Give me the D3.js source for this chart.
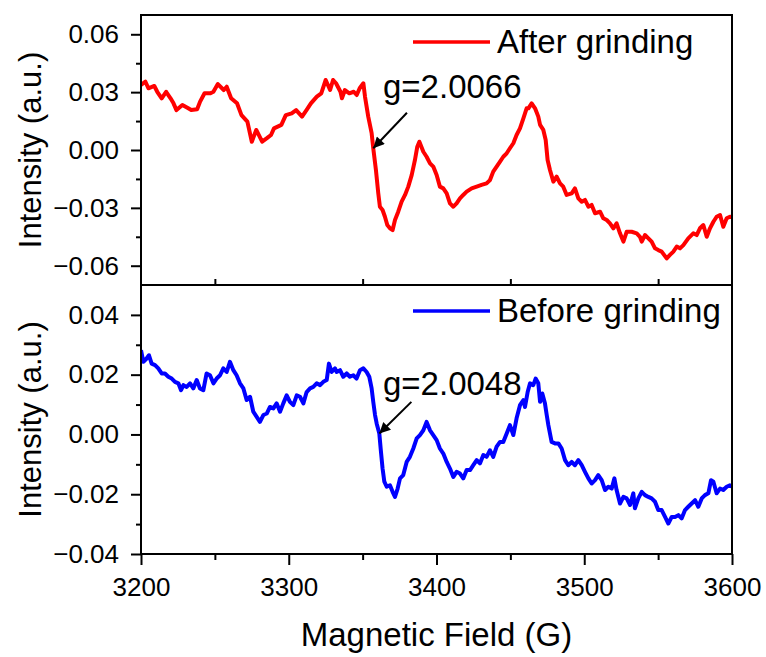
<!DOCTYPE html>
<html>
<head>
<meta charset="utf-8">
<script src="https://cdn.jsdelivr.net/npm/d3@7"></script>
<style>
  body { margin: 0; background: #fff; }
  text { font-family: "Liberation Sans", Arial, sans-serif; fill: #000; }
</style>
</head>
<body>
<svg id="chart" width="766" height="657"></svg>
<script>
// ---- data ----
const afterField = [
  3200, 3203, 3205, 3209, 3211, 3214, 3217, 3220, 3222, 3224,
  3228, 3232, 3234, 3238, 3240, 3243, 3247, 3249, 3252, 3256,
  3258, 3261, 3265, 3268, 3272, 3275, 3278, 3282, 3285, 3288,
  3290, 3295, 3298, 3302, 3305, 3309, 3312, 3315, 3319, 3322,
  3325, 3328, 3330, 3332, 3335, 3336, 3338, 3341, 3344, 3346,
  3348, 3350.5, 3351.6, 3353.8, 3356.1, 3357.2, 3359, 3360.6, 3361.7, 3363.5,
  3365.1, 3366.7, 3368.5, 3370.3, 3371.9, 3374.1, 3376.4, 3378.7, 3380.9, 3383.2,
  3385.4, 3387, 3388.4, 3391.1, 3393.3, 3395.6, 3397.8, 3400.1, 3402.3, 3404.6,
  3406.9, 3409.1, 3411.4, 3413.6, 3415.9, 3418.1, 3420.4, 3423.8, 3427.2, 3430.5,
  3433.9, 3436.2, 3438.4, 3440.7, 3443, 3445.2, 3447.5, 3449.7, 3452, 3454.2,
  3456.5, 3458.8, 3461, 3462.2, 3464.4, 3466.7, 3468.9, 3470.1, 3472.3, 3473.9,
  3475.2, 3476.8, 3479.1, 3481.3, 3483.6, 3485.8, 3488.1, 3491.5, 3493.7, 3496,
  3498.3, 3500.5, 3502.8, 3505, 3507.3, 3510.7, 3512.9, 3515.2, 3517.4, 3519.7,
  3521.9, 3524.2, 3526.5, 3528.7, 3532.1, 3535.5, 3537.7, 3538.9, 3541.1, 3543.4,
  3545.6, 3547.9, 3550.1, 3552.4, 3555.8, 3558, 3560.3, 3562.6, 3564.8, 3567.1,
  3570.4, 3573.8, 3576.1, 3578.3, 3580.6, 3582.9, 3585.1, 3587.4, 3589.6, 3591.9,
  3594.1, 3596.4, 3598.6, 3600
];
const afterIntensity = [
  .0337, .0354, .0320, .0332, .0302, .0268, .0302, .0268, .0242, .0207,
  .0233, .0216, .0207, .0211, .0251, .0294, .0294, .0302, .0342, .0311,
  .0328, .0268, .0242, .0181, .0147, .0043, .0104, .0043, .0060, .0078,
  .0112, .0130, .0181, .0190, .0207, .0173, .0207, .0242, .0277, .0294,
  .0363, .0311, .0363, .0346, .0302, .0268, .0311, .0294, .0302, .0285,
  .0320, .0346, .0277, .0173, .0087, .0009, -.0104, -.0225, -.0294, -.0311,
  -.0346, -.0389, -.0406, -.0415, -.0363, -.0320, -.0268, -.0233, -.0190, -.0130,
  -.0052, .0017, .0043, -.0009, -.0035, -.0069, -.0086, -.0130, -.0190, -.0199,
  -.0225, -.0277, -.0294, -.0277, -.0251, -.0233, -.0216, -.0199, -.0190, -.0181,
  -.0173, -.0156, -.0112, -.0086, -.0060, -.0035, -.0017, .0009, .0035, .0078,
  .0112, .0164, .0216, .0216, .0242, .0216, .0173, .0130, .0104, .0052,
  -.0052, -.0104, -.0164, -.0138, -.0173, -.0190, -.0233, -.0225, -.0199, -.0251,
  -.0268, -.0259, -.0294, -.0285, -.0328, -.0320, -.0354, -.0363, -.0380, -.0406,
  -.0380, -.0432, -.0475, -.0424, -.0424, -.0432, -.0450, -.0475, -.0441, -.0458,
  -.0475, -.0510, -.0519, -.0527, -.0562, -.0544, -.0527, -.0501, -.0510, -.0493,
  -.0458, -.0432, -.0441, -.0406, -.0389, -.0450, -.0406, -.0372, -.0346, -.0337,
  -.0398, -.0354, -.0346, -.0350
];

const beforeField = [
  3200, 3201.6, 3203.8, 3205.4, 3207.2, 3209.5, 3211.7, 3214, 3216.2, 3218.5,
  3220.8, 3223, 3225.3, 3227.1, 3228.7, 3230.9, 3233.2, 3235.4, 3237.7, 3239.9,
  3242.2, 3244.4, 3246.7, 3249, 3251.2, 3253.5, 3255.7, 3258, 3260.2, 3262.5,
  3264.7, 3267, 3269.3, 3271.5, 3273.8, 3276, 3278.3, 3280.5, 3282.8, 3285.1,
  3287.3, 3289.6, 3291.8, 3294.1, 3296.3, 3298.6, 3300.8, 3303.1, 3305.4, 3307.6,
  3309.9, 3312.1, 3314.4, 3316.6, 3318.9, 3321.2, 3323.4, 3325.7, 3327.2, 3329,
  3331.3, 3332.4, 3334.7, 3336.9, 3339.2, 3341.4, 3343.7, 3345.9, 3348.2, 3350.5,
  3352.7, 3354.5, 3356.1, 3357.2, 3358.4, 3359.5, 3361.3, 3362.2, 3363.5, 3364.7,
  3366.3, 3368.5, 3370.3, 3371.9, 3373.7, 3375.3, 3377.5, 3379.8, 3382, 3384.3,
  3386.6, 3388.8, 3391.1, 3393.3, 3395.6, 3397.8, 3400.1, 3402.3, 3404.6, 3406.9,
  3409.1, 3411.4, 3413.6, 3415.9, 3418.1, 3420.4, 3422.7, 3424.9, 3427.2, 3429.4,
  3431.7, 3433.9, 3436.2, 3438.4, 3440.7, 3443, 3445.2, 3447.5, 3449.7, 3452,
  3454.2, 3456.5, 3458.8, 3459.9, 3461.7, 3463.3, 3465.5, 3467.1, 3468.9, 3470.1,
  3471.6, 3473.4, 3474.6, 3475.7, 3477.9, 3480.2, 3482.5, 3484.7, 3487, 3489.2,
  3491.5, 3493.7, 3496, 3498.3, 3500.5, 3502.8, 3505, 3507.3, 3509.5, 3511.8,
  3514.1, 3516.3, 3518.6, 3520.4, 3521.9, 3524.2, 3526.5, 3528.7, 3531, 3533.2,
  3534.3, 3536.6, 3538.9, 3541.1, 3543.4, 3545.6, 3547.9, 3550.1, 3552.4, 3554.7,
  3556.9, 3559.2, 3561.4, 3563.7, 3565.9, 3568.2, 3570.4, 3572.7, 3575, 3577.2,
  3579.5, 3581.7, 3584, 3585.8, 3587.4, 3589.6, 3591.9, 3594.1, 3596.4, 3598.6,
  3600
];
const beforeIntensity = [
  .0282, .0243, .0254, .0265, .0237, .0232, .0221, .0204, .0204, .0193,
  .0187, .0176, .0171, .0148, .0165, .0159, .0171, .0154, .0182, .0154,
  .0148, .0204, .0198, .0171, .0187, .0198, .0221, .0209, .0243, .0215,
  .0198, .0171, .0154, .0115, .0126, .0076, .0059, .0042, .0065, .0070,
  .0092, .0087, .0104, .0076, .0104, .0131, .0109, .0098, .0131, .0126,
  .0104, .0142, .0154, .0159, .0171, .0165, .0176, .0182, .0237, .0209,
  .0221, .0209, .0215, .0193, .0204, .0193, .0198, .0187, .0215, .0221,
  .0209, .0193, .0154, .0109, .0065, .0037, .0003, -.0047, -.0114, -.0158,
  -.0175, -.0170, -.0192, -.0209, -.0181, -.0147, -.0136, -.0092, -.0075, -.0047,
  -.0013, -.0002, .0014, .0042, .0014, -.0002, -.0019, -.0047, -.0064, -.0092,
  -.0114, -.0142, -.0125, -.0131, -.0147, -.0119, -.0119, -.0103, -.0086, -.0097,
  -.0069, -.0075, -.0053, -.0075, -.0041, -.0025, -.0025, .0003, .0031, -.0002,
  .0054, .0098, .0115, .0092, .0142, .0171, .0165, .0187, .0171, .0109,
  .0137, .0104, .0065, .0031, -.0025, -.0030, -.0030, -.0047, -.0086, -.0103,
  -.0092, -.0103, -.0086, -.0103, -.0125, -.0147, -.0164, -.0153, -.0136, -.0153,
  -.0186, -.0175, -.0181, -.0147, -.0186, -.0231, -.0209, -.0214, -.0236, -.0197,
  -.0247, -.0214, -.0192, -.0203, -.0209, -.0214, -.0225, -.0253, -.0253, -.0276,
  -.0298, -.0276, -.0276, -.0270, -.0281, -.0253, -.0242, -.0231, -.0220, -.0242,
  -.0214, -.0203, -.0197, -.0153, -.0158, -.0197, -.0181, -.0186, -.0175, -.0170,
  -.0175
];

const fieldTicks = [3200, 3300, 3400, 3500, 3600];
const fieldMinor = [3250, 3350, 3450, 3550];
const afterTicks = [-0.06, -0.03, 0, 0.03, 0.06];
const afterMinor = [-0.045, -0.015, 0.015, 0.045];
const beforeTicks = [-0.04, -0.02, 0, 0.02, 0.04];
const beforeMinor = [-0.03, -0.01, 0.01, 0.03];

// g-value annotations: label, arrow tail and tip in data units
const afterNote = { label: "g=2.0066", tail: [3380, 0.0193], tip: [3357.2, 0.0009] };
const beforeNote = { label: "g=2.0048", tail: [3383, 0.0109], tip: [3361.3, 0.0003] };

// ---- layout ----
const svg = d3.select("#chart");
const left = 141, right = 732;
const fontFamily = '"Liberation Sans", Arial, sans-serif';

const x = d3.scaleLinear().domain([3200, 3600]).range([left, right]);

const panels = [
  {
    name: "after", top: 15, bottom: 285, domain: [-0.07, 0.07],
    field: afterField, values: afterIntensity, color: "#ff0000",
    ticks: afterTicks, minor: afterMinor, legend: "After grinding", legendY: 42,
    note: afterNote, noteY: 98
  },
  {
    name: "before", top: 285, bottom: 554, domain: [-0.04, 0.05],
    field: beforeField, values: beforeIntensity, color: "#0000ff",
    ticks: beforeTicks, minor: beforeMinor, legend: "Before grinding", legendY: 311,
    note: beforeNote, noteY: 395
  }
];

// arrow head
svg.append("defs").append("marker")
  .attr("id", "arrow")
  .attr("viewBox", "0 0 10 10")
  .attr("refX", 10).attr("refY", 5)
  .attr("markerUnits", "userSpaceOnUse")
  .attr("markerWidth", 14).attr("markerHeight", 11)
  .attr("orient", "auto")
  .append("path")
  .attr("d", "M0,0 L10,5 L0,10 Z")
  .attr("fill", "#000");

panels.forEach((p, i) => {
  const y = d3.scaleLinear().domain(p.domain).range([p.bottom, p.top]);
  const g = svg.append("g").attr("class", "panel-" + p.name);

  g.append("clipPath").attr("id", "clip-" + p.name)
    .append("rect")
    .attr("x", left).attr("y", p.top)
    .attr("width", right - left).attr("height", p.bottom - p.top);

  // curve
  const pts = p.field.map((f, k) => [f, p.values[k]]);
  g.append("path")
    .datum(pts)
    .attr("clip-path", `url(#clip-${p.name})`)
    .attr("fill", "none")
    .attr("stroke", p.color)
    .attr("stroke-width", 4)
    .attr("stroke-linejoin", "round")
    .attr("d", d3.line().x(d => x(d[0])).y(d => y(d[1])));

  // y axis, major + minor ticks pointing out
  const yAxisG = g.append("g").attr("transform", `translate(${left},0)`);
  yAxisG.call(d3.axisLeft(y).tickValues(p.ticks).tickSize(10).tickSizeOuter(0)
      .tickPadding(12).tickFormat(d3.format(".2f")));
  yAxisG.call(g2 => g2.select(".domain").remove());
  yAxisG.selectAll("text").style("font-size", "26px").style("font-family", fontFamily);
  yAxisG.selectAll("line").attr("stroke", "#000").attr("stroke-width", 2);

  const yMinorG = g.append("g").attr("transform", `translate(${left},0)`);
  yMinorG.call(d3.axisLeft(y).tickValues(p.minor).tickSize(5).tickSizeOuter(0).tickFormat(""));
  yMinorG.call(g2 => g2.select(".domain").remove());
  yMinorG.selectAll("line").attr("stroke", "#000").attr("stroke-width", 2);

  if (i === 0) {
    // inward ticks on the shared edge
    const xin = g.append("g").attr("transform", `translate(0,${p.bottom})`);
    xin.call(d3.axisTop(x).tickValues(fieldTicks.slice(1, -1)).tickSize(12).tickSizeOuter(0).tickFormat(""));
    xin.call(d3.axisTop(x).tickValues(fieldMinor).tickSize(6).tickSizeOuter(0).tickFormat(""));
    xin.selectAll(".domain").remove();
    xin.selectAll("line").attr("stroke", "#000").attr("stroke-width", 2);
  } else {
    const xAxisG = g.append("g").attr("transform", `translate(0,${p.bottom})`);
    xAxisG.call(d3.axisBottom(x).tickValues(fieldTicks).tickSize(11).tickSizeOuter(0)
        .tickPadding(13).tickFormat(d3.format("d")));
    xAxisG.select(".domain").remove();
    xAxisG.selectAll("text").style("font-size", "26px").style("font-family", fontFamily);
    xAxisG.selectAll("line").attr("stroke", "#000").attr("stroke-width", 2);

    const xMinorG = g.append("g").attr("transform", `translate(0,${p.bottom})`);
    xMinorG.call(d3.axisBottom(x).tickValues(fieldMinor).tickSize(6).tickSizeOuter(0).tickFormat(""));
    xMinorG.select(".domain").remove();
    xMinorG.selectAll("line").attr("stroke", "#000").attr("stroke-width", 2);
  }

  // frame
  g.append("rect")
    .attr("x", left).attr("y", p.top)
    .attr("width", right - left).attr("height", p.bottom - p.top)
    .attr("fill", "none").attr("stroke", "#000").attr("stroke-width", 2);

  // y title
  g.append("text")
    .attr("transform", `translate(41,${(p.top + p.bottom) / 2}) rotate(-90)`)
    .attr("text-anchor", "middle")
    .style("font-size", "31px")
    .text("Intensity (a.u.)");

  // legend
  g.append("line")
    .attr("x1", 413).attr("x2", 490)
    .attr("y1", p.legendY).attr("y2", p.legendY)
    .attr("stroke", p.color).attr("stroke-width", 3.5);
  g.append("text")
    .attr("x", 497).attr("y", p.legendY + 11)
    .style("font-size", "33px")
    .text(p.legend);

  // g-value note
  g.append("text")
    .attr("x", 383).attr("y", p.noteY)
    .style("font-size", "33px")
    .text(p.note.label);
  g.append("line")
    .attr("x1", x(p.note.tail[0])).attr("y1", y(p.note.tail[1]))
    .attr("x2", x(p.note.tip[0])).attr("y2", y(p.note.tip[1]))
    .attr("stroke", "#000").attr("stroke-width", 2)
    .attr("marker-end", "url(#arrow)");
});

// x title
svg.append("text")
  .attr("x", (left + right) / 2).attr("y", 646)
  .attr("text-anchor", "middle")
  .style("font-size", "33px")
  .text("Magnetic Field (G)");
</script>
</body>
</html>
